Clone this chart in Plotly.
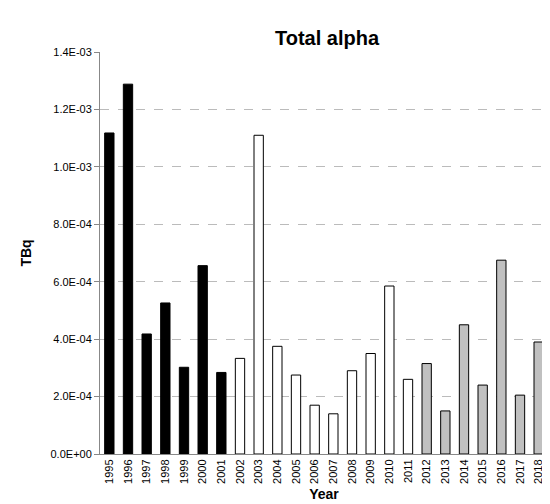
import plotly.graph_objects as go

years = [str(y) for y in range(1995, 2019)]
values = [1.118e-3, 1.288e-3, 4.18e-4, 5.26e-4, 3.02e-4, 6.56e-4, 2.84e-4,
          3.33e-4, 1.11e-3, 3.75e-4, 2.75e-4, 1.70e-4, 1.40e-4, 2.90e-4,
          3.50e-4, 5.85e-4, 2.60e-4, 3.15e-4, 1.50e-4, 4.50e-4, 2.40e-4,
          6.75e-4, 2.05e-4, 3.90e-4]
fills = ["black"] * 7 + ["white"] * 10 + ["#c0c0c0"] * 7

tick_vals = [i * 2e-4 for i in range(8)]
tick_text = ["0.0E+00", "2.0E-04", "4.0E-04", "6.0E-04", "8.0E-04",
             "1.0E-03", "1.2E-03", "1.4E-03"]

fig = go.Figure(go.Bar(
    x=years, y=values,
    marker=dict(color=fills, line=dict(color="black", width=1)),
    width=0.5,
))

fig.update_layout(
    title=dict(text="<b>Total alpha</b>", x=0.58, xanchor="center", y=0.955,
               font=dict(size=20, color="black")),
    font=dict(family="Liberation Sans, Arial, sans-serif", size=12, color="black"),
    width=550, height=504,
    margin=dict(l=92, r=10, t=44, b=58),
    plot_bgcolor="white", paper_bgcolor="white",
    showlegend=False,
    xaxis=dict(title=dict(text="<b>Year</b>", font=dict(size=14), standoff=6),
               tickangle=-90, showline=True, linecolor="#888", mirror=False,
               ticks="", tickfont=dict(size=11)),
    yaxis=dict(title=dict(text="<b>TBq</b>", font=dict(size=14)),
               range=[0, 1.4e-3], tickvals=tick_vals, ticktext=tick_text,
               showgrid=True, gridcolor="#bbb", griddash="dash",
               showline=True, linecolor="#888", ticks="outside", tickcolor="#888",
               tickfont=dict(size=11), zeroline=False),
)

fig.write_html("out.html")
